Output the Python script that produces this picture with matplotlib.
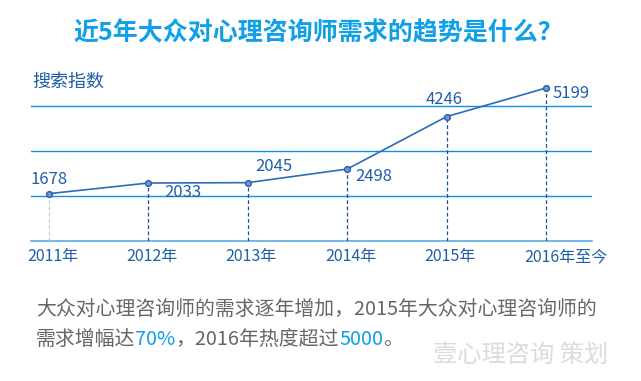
import matplotlib
matplotlib.use("Agg")
import matplotlib.pyplot as plt

plt.rcParams['font.family'] = ['Noto Sans CJK SC', 'DejaVu Sans']

# 数据
years = ["2011年", "2012年", "2013年", "2014年", "2015年", "2016年至今"]
search_index = [1678, 2033, 2045, 2498, 4246, 5199]
grid_vals = [1600, 3100, 4600]
base_val = 100

title = "近5年大众对心理咨询师需求的趋势是什么？"
ylabel = "搜索指数"
note_line1 = "大众对心理咨询师的需求逐年增加，2015年大众对心理咨询师的"
note_line2 = [("需求增幅达", "gray"), ("70%", "blue"), ("，2016年热度超过", "gray"),
              ("5000", "blue"), ("。", "gray")]
watermark = "壹心理咨询 策划"

# 标签偏移（像素）
label_offsets = [(0, 14), (34, -9), (26, 16), (27, -7), (-2, 17), (25, -5)]

W, H = 641, 381
BLUE_TXT = "#1f5fa8"
GRID = "#128fe0"
LINE = "#2c6cb8"
HL = "#0fa0e8"
GRAY = "#666666"

fig = plt.figure(figsize=(W / 100, H / 100), dpi=100)
fig.patch.set_facecolor("white")


def fx(x):
    return x / W


def fy(y):
    return 1 - y / H


ax = fig.add_axes([fx(31), fy(241), (592 - 31) / W, 166 / H])
ax.set_xlim(-0.181, 5.463)
ax.set_ylim(base_val, base_val + 166 / 0.03)
ax.axis("off")

for g in grid_vals:
    ax.axhline(g, color=GRID, lw=1.0, zorder=1)
ax.axhline(base_val, color="#4aa6e6", lw=1.1, zorder=1, clip_on=False)

xs = list(range(len(years)))
for i, v in zip(xs, search_index):
    c = "#b9cde2" if i == 0 else "#1f4f99"
    ax.vlines(i, base_val, v, colors=c, lw=0.9, linestyles=(0, (3, 2)), zorder=2)

ax.plot(xs, search_index, color=LINE, lw=1.2, marker="o", markersize=4.2,
        mfc="#6a98d4", mec="#2a5fa8", mew=1.0, zorder=3)

for i, v, (dx, dy) in zip(xs, search_index, label_offsets):
    ax.annotate(str(v), xy=(i, v), xytext=(dx, dy), textcoords="offset pixels",
                ha="center", va="center", fontsize=12, color=BLUE_TXT)

for i, lab in zip(xs, years):
    ax.annotate(lab, xy=(i, base_val), xytext=(-22, -16), textcoords="offset pixels",
                ha="left", va="center", fontsize=11.5, color=BLUE_TXT,
                annotation_clip=False)

fig.text(fx(318), fy(33), title, ha="center", va="center", fontsize=18,
         fontweight="bold", color=HL)
fig.text(fx(32), fy(82), ylabel, ha="left", va="center", fontsize=13, color=BLUE_TXT)

fig.text(fx(36), fy(310.5), note_line1, ha="left", va="center", fontsize=14.3, color=GRAY)

renderer = fig.canvas.get_renderer()
x = 36
for s, kind in note_line2:
    t = fig.text(fx(x), fy(339.5), s, ha="left", va="center", fontsize=14.3,
                 color=HL if kind == "blue" else GRAY)
    x += t.get_window_extent(renderer).width

fig.text(fx(433), fy(354.5), watermark, ha="left", va="center", fontsize=17.5,
         color="#dcdcdc")

fig.savefig("out.png", dpi=100)
